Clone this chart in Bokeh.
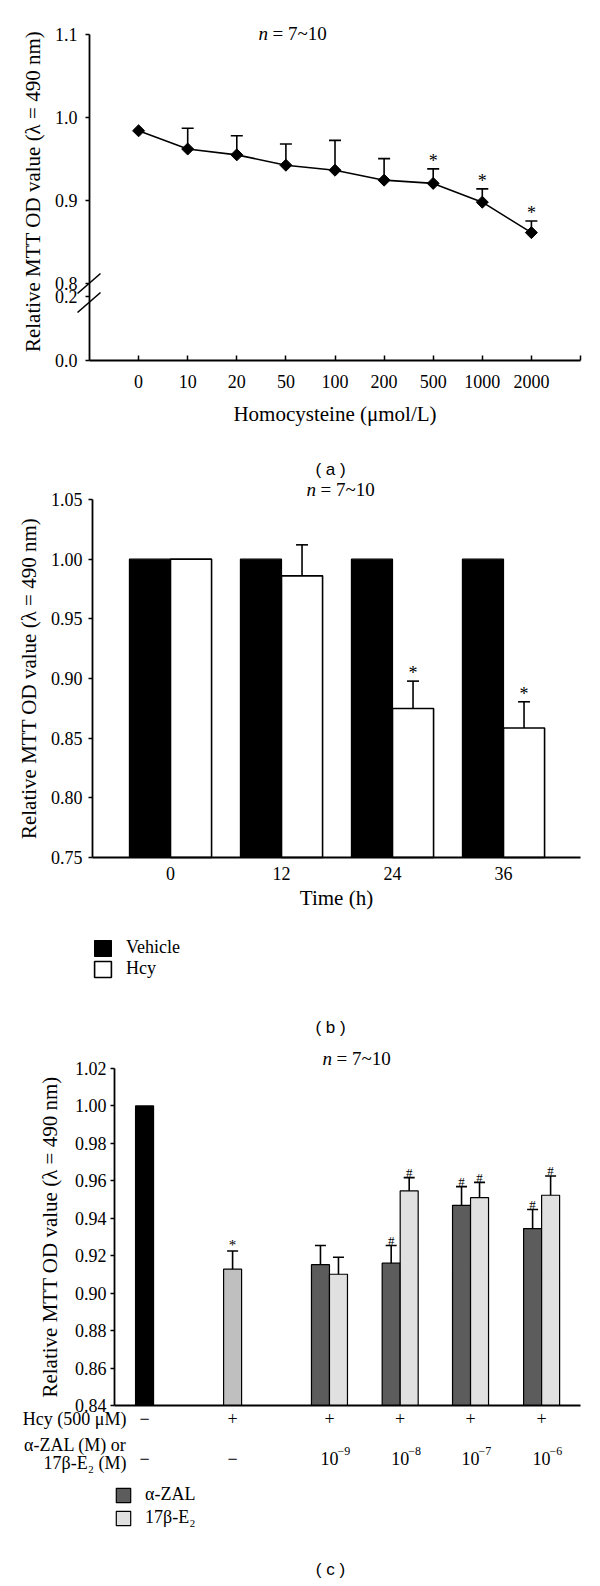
import numpy as np
from bokeh.plotting import figure
from bokeh.layouts import column
from bokeh.models import (FixedTicker, PrintfTickFormatter, Label, LabelSet, ColumnDataSource,
                          Legend, LegendItem, Arrow, Range1d)
from bokeh.embed import file_html
from bokeh.resources import INLINE
from bokeh.core.properties import value

SERIF = "Liberation Serif"
SANS = "Liberation Sans"
TICK_FS = "18px"
LAB_FS = "21px"
TXT_FS = "18px"

# ---------------- data: panel (a) ----------------
hcy_conc = ["0", "10", "20", "50", "100", "200", "500", "1000", "2000"]
mtt_a = [0.984, 0.962, 0.955, 0.9425, 0.9365, 0.9245, 0.9206, 0.898, 0.8613]
err_a = [0.0, 0.025, 0.023, 0.0255, 0.036, 0.026, 0.0175, 0.016, 0.014]
sig_a = ["", "", "", "", "", "", "*", "*", "*"]

# ---------------- data: panel (b) ----------------
times = ["0", "12", "24", "36"]
vehicle_b = [1.0, 1.0, 1.0, 1.0]
hcy_b = [1.0, 0.986, 0.8748, 0.8585]
hcy_b_err = [0.0, 0.026, 0.023, 0.022]
sig_b = ["", "", "*", "*"]

# ---------------- data: panel (c) ----------------
hcy_row = ["\u2212", "+", "+", "+", "+", "+"]
dose_base = ["\u2212", "\u2212", "10", "10", "10", "10"]
dose_exp = ["", "", "\u22129", "\u22128", "\u22127", "\u22126"]
ctrl_c = [1.0]
hcy_c = [0.9128]
hcy_c_err = [0.0097]
hcy_c_sig = ["*"]
zal_c = [0.9152, 0.916, 0.9469, 0.9345]
zal_c_err = [0.0103, 0.0095, 0.0100, 0.0102]
zal_sig = ["", "#", "#", "#"]
e2_c = [0.9101, 0.9546, 0.951, 0.9523]
e2_c_err = [0.0091, 0.0071, 0.0082, 0.0103]
e2_sig = ["", "#", "#", "#"]

# layout slots for the panel (c) categories along the axis
slots_c = [0.425, 1.67, 3.04, 4.04, 5.035, 6.04]

W = 600
YLABEL = "Relative MTT OD value (\u03bb = 490 nm)"


def span(p0, v0, p1, v1, total):
    """values at pixel 0 and pixel `total` for a linear pixel->value mapping"""
    k = (v1 - v0) / (p1 - p0)
    return v0 + (0 - p0) * k, v0 + (total - p0) * k


def make_fig(h, xr, yr):
    p = figure(width=W, height=h, x_range=Range1d(*xr), y_range=Range1d(*yr), title=None,
               output_backend="svg", toolbar_location=None, min_border=0)
    p.outline_line_color = None
    p.xgrid.visible = False
    p.ygrid.visible = False
    p.background_fill_color = "white"
    p.border_fill_color = "white"
    for ax in [p.xaxis[0], p.yaxis[0]]:
        ax.axis_line_width = 1.8
        ax.axis_line_color = "black"
        ax.major_tick_line_width = 1.5
        ax.major_tick_line_color = "black"
        ax.minor_tick_line_color = None
        ax.major_label_text_font = SERIF
        ax.major_label_text_font_size = TICK_FS
        ax.major_label_text_color = "black"
        ax.axis_label_text_font = SERIF
        ax.axis_label_text_font_size = LAB_FS
        ax.axis_label_text_font_style = "normal"
        ax.axis_label_text_color = "black"
    return p


def txt(p, x, y, text, font=SERIF, size=TXT_FS, style_="normal", align="left", baseline="middle", angle=0.0):
    p.add_layout(Label(x=x, y=y, x_units="canvas", y_units="canvas", text=text, angle=angle,
                       text_font=font, text_font_size=size, text_font_style=style_,
                       text_align=align, text_baseline=baseline, text_color="black"))


def errbars(p, xs, means, errs, sigs, cap=12, sig_size="18px", sig_off=-8):
    xs = np.asarray(xs, dtype=float)
    means = np.asarray(means, dtype=float)
    errs = np.asarray(errs, dtype=float)
    m = errs > 0
    tops = means + errs
    p.segment(x0=xs[m], y0=means[m], x1=xs[m], y1=tops[m], line_color="black", line_width=1.6)
    p.scatter(xs[m], tops[m], marker="dash", size=cap, line_color="black", line_width=1.6)
    p.text(x=xs, y=tops, text=list(sigs), text_font=value(SERIF), text_font_size=sig_size,
           text_align="center", text_baseline="alphabetic", y_offset=sig_off, text_color="black")


# ======================= Panel (a) =======================
HA = 478
xa = np.arange(len(hcy_conc)) + 1
y0a = 0.707
ya_top, ya_bot = span(34, 1.1, 200, 0.9, HA)
pa = make_fig(HA, span(89, 0, 580, 10, W), (ya_bot, ya_top))
pa.line(xa, mtt_a, line_color="black", line_width=1.6)
errbars(pa, xa, mtt_a, err_a, sig_a)
pa.scatter(xa, mtt_a, marker="square", angle=np.pi / 4, size=8.5, fill_color="black", line_color="black")

pa.yaxis.fixed_location = 0
pa.yaxis.bounds = (y0a, 1.1)
pa.yaxis.ticker = FixedTicker(ticks=[y0a, 0.784, 0.8, 0.9, 1.0, 1.1])
pa.yaxis.formatter = PrintfTickFormatter(format="%.1f")
pa.yaxis.major_label_overrides = {y0a: "0.0", 0.784: "0.2"}
pa.yaxis.major_tick_out = 4
pa.yaxis.major_tick_in = 0
pa.yaxis.major_label_standoff = 8

pa.xaxis.fixed_location = y0a
pa.xaxis.bounds = (0, 10)
pa.xaxis.ticker = FixedTicker(ticks=list(range(1, 11)))
ov = {i + 1: c for i, c in enumerate(hcy_conc)}
ov[10] = ""
pa.xaxis.major_label_overrides = ov
pa.xaxis.major_tick_in = 5
pa.xaxis.major_tick_out = 0
pa.xaxis.major_label_standoff = 14
pa.xaxis.axis_label = "Homocysteine (\u03bcmol/L)"
pa.xaxis.axis_label_standoff = 11

# axis break marks
for (x0, y0, x1, y1) in [(77, 293, 100, 273), (77, 312, 100, 292)]:
    pa.add_layout(Arrow(x_start=x0, y_start=y0, x_end=x1, y_end=y1, start_units="canvas",
                        end_units="canvas", start=None, end=None, line_width=1.6, line_color="black"))

txt(pa, 32, 191, YLABEL, size=LAB_FS, align="center", angle=np.pi / 2)
txt(pa, 258, 33, "n", size="19px", style_="italic")
txt(pa, 272, 33, "= 7~10", size="19px")
txt(pa, 330, 469, "( a )", font=SANS, size="17px", align="center")

# ======================= Panel (b) =======================
HB = 562
xb = np.arange(len(times))
yb_top, yb_bot = span(21, 1.05, 379, 0.75, HB)
xr_b = span(170, 0, 281, 1, W)
pb = make_fig(HB, xr_b, (yb_bot, yb_top))
xb_lo, xb_hi = xr_b[0] + 92 / 111, xr_b[0] + 580 / 111
rv = pb.vbar(x=xb - 0.185, top=vehicle_b, bottom=0.75, width=0.37, fill_color="black",
             line_color="black", line_width=1.2)
rh = pb.vbar(x=xb + 0.185, top=hcy_b, bottom=0.75, width=0.37, fill_color="white",
             line_color="black", line_width=1.6)
errbars(pb, xb + 0.185, hcy_b, hcy_b_err, sig_b)

pb.yaxis.fixed_location = xb_lo
pb.yaxis.bounds = (0.75, 1.05)
pb.yaxis.ticker = FixedTicker(ticks=[0.75, 0.80, 0.85, 0.90, 0.95, 1.00, 1.05])
pb.yaxis.formatter = PrintfTickFormatter(format="%.2f")
pb.yaxis.major_tick_out = 4
pb.yaxis.major_tick_in = 0
pb.yaxis.major_label_standoff = 6
pb.yaxis.axis_label = YLABEL
pb.yaxis.axis_label_standoff = 7

pb.xaxis.fixed_location = 0.75
pb.xaxis.bounds = (xb_lo, xb_hi)
pb.xaxis.ticker = FixedTicker(ticks=list(xb))
pb.xaxis.major_label_overrides = {int(i): t for i, t in zip(xb, times)}
pb.xaxis.major_tick_in = 0
pb.xaxis.major_tick_out = 0
pb.xaxis.major_label_standoff = 9
pb.xaxis.axis_label = "Time (h)"
pb.xaxis.axis_label_standoff = 3

leg_b = Legend(items=[LegendItem(label="Vehicle", renderers=[rv]), LegendItem(label="Hcy", renderers=[rh])],
               location=(92, 61), orientation="vertical", glyph_width=21, glyph_height=20,
               spacing=0, padding=0, margin=0, label_standoff=13,
               label_text_font=SERIF, label_text_font_size=TXT_FS, label_text_color="black",
               border_line_color=None, background_fill_alpha=0)
pb.add_layout(leg_b)

txt(pb, 306, 11, "n", size="19px", style_="italic")
txt(pb, 320, 11, "= 7~10", size="19px")
txt(pb, 330, 549, "( b )", font=SANS, size="17px", align="center")

# ======================= Panel (c) =======================
HC = 546
yc_top, yc_bot = span(28, 1.02, 365, 0.84, HC)
pc = make_fig(HC, span(114, 0, 580, 6.59, W), (yc_bot, yc_top))
bw = 0.2546
sc = np.array(slots_c)
pc.vbar(x=sc[:1], top=ctrl_c, bottom=0.84, width=bw, fill_color="black", line_color="black", line_width=1.2)
pc.vbar(x=sc[1:2], top=hcy_c, bottom=0.84, width=bw, fill_color="#bfbfbf", line_color="black", line_width=1.2)
errbars(pc, sc[1:2], hcy_c, hcy_c_err, hcy_c_sig, cap=11, sig_size="15px", sig_off=-6)
rz = pc.vbar(x=sc[2:] - bw / 2, top=zal_c, bottom=0.84, width=bw, fill_color="#5c5c5c",
             line_color="black", line_width=1.2)
re = pc.vbar(x=sc[2:] + bw / 2, top=e2_c, bottom=0.84, width=bw, fill_color="#e0e0e0",
             line_color="black", line_width=1.2)
errbars(pc, sc[2:] - bw / 2, zal_c, zal_c_err, zal_sig, cap=11, sig_size="13px", sig_off=-5)
errbars(pc, sc[2:] + bw / 2, e2_c, e2_c_err, e2_sig, cap=11, sig_size="13px", sig_off=-5)

pc.yaxis.fixed_location = 0
pc.yaxis.bounds = (0.84, 1.02)
pc.yaxis.ticker = FixedTicker(ticks=[0.84, 0.86, 0.88, 0.90, 0.92, 0.94, 0.96, 0.98, 1.00, 1.02])
pc.yaxis.formatter = PrintfTickFormatter(format="%.2f")
pc.yaxis.major_tick_out = 4
pc.yaxis.major_tick_in = 0
pc.yaxis.major_label_standoff = 4
pc.yaxis.axis_label = YLABEL
pc.yaxis.axis_label_standoff = 10

pc.xaxis.fixed_location = 0.84
pc.xaxis.bounds = (0, 6.59)
pc.xaxis.ticker = FixedTicker(ticks=[])
pc.xaxis.major_tick_line_color = None

# condition rows under the axis
n_s = len(sc)
src_rows = ColumnDataSource(dict(x=list(sc), r1=hcy_row, r2=dose_base, r3=dose_exp,
                                 y1=[378] * n_s, y2=[418] * n_s, y3=[410] * n_s))
for col, ycol, size, align, xoff in [("r1", "y1", TXT_FS, "center", 0),
                                     ("r2", "y2", TXT_FS, "center", 0),
                                     ("r3", "y3", "12px", "left", 8)]:
    pc.add_layout(LabelSet(x="x", y=ycol, text=col, source=src_rows, x_units="data", y_units="canvas",
                           x_offset=xoff, text_font=value(SERIF), text_font_size=value(size),
                           text_align=align, text_baseline="middle", text_color="black"))
txt(pc, 126, 378, "Hcy (500 \u03bcM)", align="right")
txt(pc, 126, 404, "\u03b1-ZAL (M) or", align="right")
txt(pc, 126, 422, "17\u03b2-E\u2082 (M)", align="right")

leg_c = Legend(items=[LegendItem(label="\u03b1-ZAL", renderers=[rz]), LegendItem(label="17\u03b2-E\u2082", renderers=[re])],
               location=(114, 58), orientation="vertical", glyph_width=18, glyph_height=18,
               spacing=2, padding=0, margin=0, label_standoff=13,
               label_text_font=SERIF, label_text_font_size=TXT_FS, label_text_color="black",
               border_line_color=None, background_fill_alpha=0)
pc.add_layout(leg_c)

txt(pc, 322, 18, "n", size="19px", style_="italic")
txt(pc, 336, 18, "= 7~10", size="19px")
txt(pc, 330, 529, "( c )", font=SANS, size="17px", align="center")

layout = column(pa, pb, pc, spacing=0)
open("out.html", "w").write(file_html(layout, INLINE))
